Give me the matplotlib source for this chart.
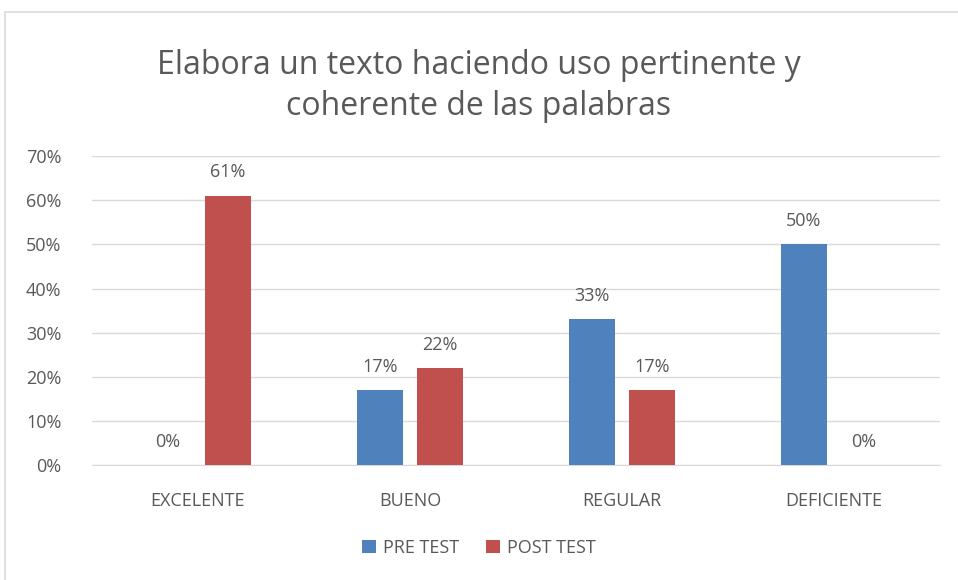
import matplotlib.pyplot as plt
import numpy as np
from matplotlib.patches import Rectangle

categories = ['EXCELENTE', 'BUENO', 'REGULAR', 'DEFICIENTE']
pre_test = [0.00, 0.17, 0.33, 0.50]
post_test = [0.61, 0.22, 0.17, 0.00]
yticks = [0, 0.1, 0.2, 0.3, 0.4, 0.5, 0.6, 0.7]

blue = '#4f81bd'
red = '#c0504d'
gray = '#595959'

plt.rcParams['font.family'] = ['Open Sans', 'DejaVu Sans']

fig = plt.figure(figsize=(9.58, 5.8), dpi=100)
ax = fig.add_axes([0.096, 0.198, 0.885, 0.533])

# chart border (clipped at right and bottom like the screenshot)
fig.patches.append(Rectangle((5 / 958, -0.1), 1.1, 1 - 12 / 580 + 0.1,
                             transform=fig.transFigure, fill=False,
                             edgecolor='#d9d9d9', linewidth=1.2))

x = np.arange(len(categories))
width = 0.217
r1 = ax.bar(x - 0.142, pre_test, width, color=blue, label='PRE TEST', zorder=3)
r2 = ax.bar(x + 0.142, post_test, width, color=red, label='POST TEST', zorder=3)

for rects in (r1, r2):
    for rect in rects:
        h = rect.get_height()
        ax.text(rect.get_x() + rect.get_width() / 2, h + 0.053, '{:.0f}%'.format(h * 100),
                ha='center', va='center', fontsize=13, color=gray)

ax.set_xlim(-0.5, 3.5)
ax.set_ylim(0, 0.7)
ax.set_yticks(yticks)
ax.set_yticklabels(['{:.0f}%'.format(v * 100) for v in yticks])
ax.set_xticks(x)
ax.set_xticklabels(categories)
ax.tick_params(axis='both', length=0, labelsize=13, labelcolor=gray)
ax.tick_params(axis='y', pad=22)
ax.tick_params(axis='x', pad=19)
ax.grid(axis='y', color='#d9d9d9', linewidth=1, zorder=0)
for s in ['top', 'right', 'left']:
    ax.spines[s].set_visible(False)
ax.spines['bottom'].set_color('#d9d9d9')

fig.text(0.5, 0.852, 'Elabora un texto haciendo uso pertinente y\ncoherente de las palabras',
         ha='center', va='center', fontsize=23, color=gray, linespacing=1.32)

fig.legend(loc='center', bbox_to_anchor=(0.5, 0.055), ncol=2, frameon=False,
           fontsize=13, handlelength=0.75, handleheight=0.75, handletextpad=0.4,
           columnspacing=1.5, labelcolor=gray)

plt.savefig('out.png', dpi=100, facecolor='white')
